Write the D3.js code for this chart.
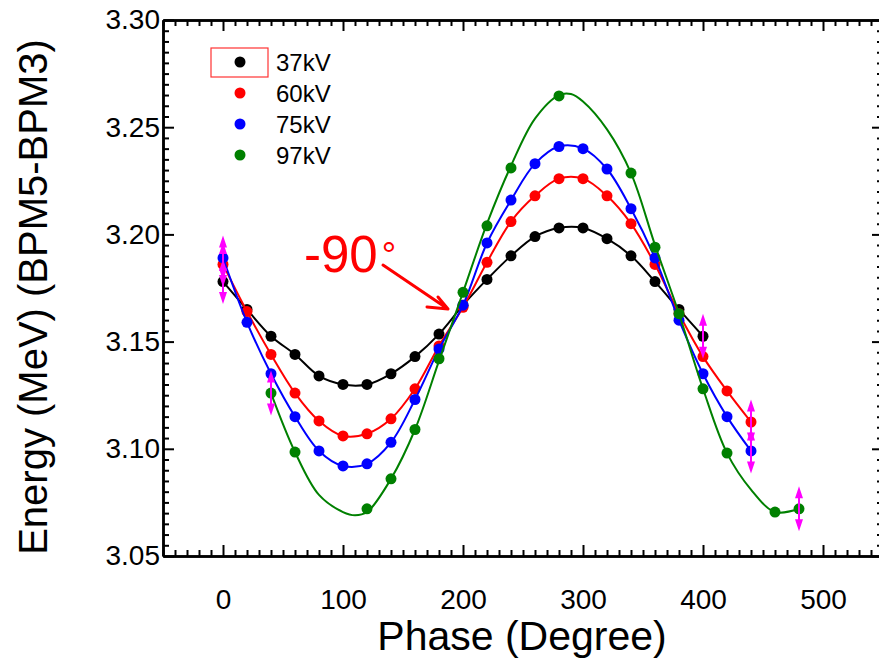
<!DOCTYPE html>
<html>
<head>
<meta charset="utf-8">
<script src="https://cdn.jsdelivr.net/npm/d3@7"></script>
<style>
  body { margin: 0; background: #fff; }
  svg { display: block; }
  text { font-family: "Liberation Sans", Arial, sans-serif; }
  .tick text { font-family: "Liberation Sans Narrow", "Arial Narrow", "Liberation Sans", Arial, sans-serif; }
</style>
</head>
<body>
<svg id="chart" width="879" height="663"></svg>
<script>
// phase steps (degree)
var phases = [0, 20, 40, 60, 80, 100, 120, 140, 160, 180, 200, 220, 240, 260, 280, 300, 320, 340, 360, 380, 400, 420, 440, 460, 480];

// energy (MeV), null where there is no measurement
var kv37 = [3.178, 3.165, 3.1525, 3.144, 3.134, 3.130, 3.130, 3.135, 3.143, 3.1535, 3.167, 3.179, 3.190, 3.199, 3.203, 3.203, 3.198, 3.190, 3.178, 3.165, 3.1525, null, null, null, null];
var kv60 = [3.186, 3.164, 3.144, 3.126, 3.113, 3.106, 3.107, 3.114, 3.128, 3.148, 3.166, 3.187, 3.206, 3.218, 3.226, 3.226, 3.218, 3.205, 3.186, 3.163, 3.143, 3.127, 3.1125, null, null];
var kv75 = [3.189, 3.159, 3.135, 3.115, 3.099, 3.092, 3.093, 3.103, 3.123, 3.1465, 3.167, 3.196, 3.216, 3.233, 3.241, 3.240, 3.2305, 3.212, 3.189, 3.160, 3.135, 3.115, 3.099, null, null];
var kv97 = [null, null, 3.126, 3.0985, null, null, 3.072, 3.086, 3.109, 3.142, 3.173, 3.204, 3.231, null, 3.2646, null, null, 3.2286, 3.194, 3.163, 3.128, 3.098, null, 3.0705, 3.072];

// fitted curve of the 97kV set
var fit97Phase = [40, 60, 80, 100, 110, 120, 140, 160, 180, 200, 220, 240, 260, 280, 290, 300, 320, 340, 360, 380, 400, 420, 440, 460, 480];
var fit97Value = [3.126, 3.0985, 3.0785, 3.0705, 3.069, 3.0705, 3.086, 3.109, 3.141, 3.173, 3.205, 3.232, 3.254, 3.265, 3.2655, 3.262, 3.249, 3.2286, 3.195, 3.163, 3.128, 3.098, 3.081, 3.0705, 3.072];

// where the error bars sit, per set
var err37 = [0, 400];
var err60 = [0, 440];
var err75 = [0, 440];
var err97 = [40, 480];
var errSize = 0.0105;

var seriesNames = ['37kV', '60kV', '75kV', '97kV'];
var seriesColors = ['#000000', '#ff0000', '#0000ff', '#008000'];

var xTicks = [0, 100, 200, 300, 400, 500];
var yTicks = [3.05, 3.10, 3.15, 3.20, 3.25, 3.30];

var svg = d3.select('#chart');

var x = d3.scaleLinear().domain([-50, 550]).range([163, 883]);
var y = d3.scaleLinear().domain([3.05, 3.30]).range([556, 20]);

var xMinor = d3.range(-50, 551, 10).filter(function(d) { return d % 100 !== 0; });
var yMinor = d3.range(0, 51).map(function(i) { return 3.05 + i * 0.005; })
  .filter(function(d, i) { return i % 10 !== 0; });

function styleAxis(g) {
  g.select('.domain').attr('stroke', '#000').attr('stroke-width', 2.5);
  g.selectAll('.tick line').attr('stroke', '#000').attr('stroke-width', 2);
  g.selectAll('.tick text').attr('fill', '#000').attr('font-size', 28);
}

// bottom
svg.append('g').attr('transform', 'translate(0,556)')
  .call(d3.axisBottom(x).tickValues(xTicks).tickSize(-11).tickSizeOuter(0).tickPadding(33).tickFormat(d3.format('d')))
  .call(styleAxis);
svg.append('g').attr('transform', 'translate(0,556)')
  .call(d3.axisBottom(x).tickValues(xMinor).tickSize(-6).tickSizeOuter(0).tickFormat(''))
  .call(styleAxis);
// top
svg.append('g').attr('transform', 'translate(0,20)')
  .call(d3.axisTop(x).tickValues(xTicks).tickSize(-11).tickSizeOuter(0).tickFormat(''))
  .call(styleAxis);
svg.append('g').attr('transform', 'translate(0,20)')
  .call(d3.axisTop(x).tickValues(xMinor).tickSize(-6).tickSizeOuter(0).tickFormat(''))
  .call(styleAxis);
// left
svg.append('g').attr('transform', 'translate(163,0)')
  .call(d3.axisLeft(y).tickValues(yTicks).tickSize(-11).tickSizeOuter(0).tickPadding(3).tickFormat(d3.format('.2f')))
  .call(styleAxis);
svg.append('g').attr('transform', 'translate(163,0)')
  .call(d3.axisLeft(y).tickValues(yMinor).tickSize(-6).tickSizeOuter(0).tickFormat(''))
  .call(styleAxis);
// right
svg.append('g').attr('transform', 'translate(883,0)')
  .call(d3.axisRight(y).tickValues(yTicks).tickSize(-11).tickSizeOuter(0).tickFormat(''))
  .call(styleAxis);
svg.append('g').attr('transform', 'translate(883,0)')
  .call(d3.axisRight(y).tickValues(yMinor).tickSize(-6).tickSizeOuter(0).tickFormat(''))
  .call(styleAxis);

// axis titles
svg.append('text')
  .attr('x', 522).attr('y', 650)
  .attr('text-anchor', 'middle')
  .attr('font-size', 41)
  .text('Phase (Degree)');

svg.append('text')
  .attr('transform', 'translate(47,297) rotate(-90)')
  .attr('text-anchor', 'middle')
  .attr('font-size', 40)
  .text('Energy (MeV) (BPM5-BPM3)');

// series
var allSeries = [kv37, kv60, kv75, kv97];
var allErr = [err37, err60, err75, err97];

var line = d3.line()
  .defined(function(d) { return d.v !== null; })
  .x(function(d) { return x(d.p); })
  .y(function(d) { return y(d.v); })
  .curve(d3.curveCatmullRom.alpha(0.5));

allSeries.forEach(function(vals, si) {
  var pts = phases.map(function(p, i) { return { p: p, v: vals[i] }; });
  var drawn = pts.filter(function(d) { return d.v !== null; });
  var g = svg.append('g');

  if (si === 3) {
    var fit = fit97Phase.map(function(p, i) { return { p: p, v: fit97Value[i] }; });
    g.append('path').datum(fit)
      .attr('d', line)
      .attr('fill', 'none')
      .attr('stroke', seriesColors[si])
      .attr('stroke-width', 2);
  } else {
    g.append('path').datum(drawn)
      .attr('d', line)
      .attr('fill', 'none')
      .attr('stroke', seriesColors[si])
      .attr('stroke-width', 2);
  }

  g.selectAll('circle').data(drawn).enter().append('circle')
    .attr('cx', function(d) { return x(d.p); })
    .attr('cy', function(d) { return y(d.v); })
    .attr('r', 5.5)
    .attr('fill', seriesColors[si]);
});

// error bars with arrow heads
var errData = [];
allErr.forEach(function(list, si) {
  list.forEach(function(p) {
    errData.push({ p: p, v: allSeries[si][phases.indexOf(p)] });
  });
});

var eb = svg.append('g').selectAll('g').data(errData).enter().append('g');
eb.append('line')
  .attr('x1', function(d) { return x(d.p); })
  .attr('x2', function(d) { return x(d.p); })
  .attr('y1', function(d) { return y(d.v + errSize) + 6; })
  .attr('y2', function(d) { return y(d.v - errSize) - 6; })
  .attr('stroke', '#ff00ff')
  .attr('stroke-width', 2);
eb.append('path')
  .attr('d', function(d) {
    var cx = x(d.p), t = y(d.v + errSize), b = y(d.v - errSize);
    return 'M' + cx + ',' + t + 'L' + (cx - 4) + ',' + (t + 12) + 'L' + (cx + 4) + ',' + (t + 12) + 'Z' +
      'M' + cx + ',' + b + 'L' + (cx - 4) + ',' + (b - 12) + 'L' + (cx + 4) + ',' + (b - 12) + 'Z';
  })
  .attr('fill', '#ff00ff');

// legend
var legend = svg.append('g');
legend.append('rect')
  .attr('x', 211).attr('y', 48).attr('width', 57).attr('height', 29)
  .attr('fill', 'none').attr('stroke', '#ff3333').attr('stroke-width', 1.2);
seriesNames.forEach(function(name, i) {
  legend.append('circle')
    .attr('cx', 240).attr('cy', 62 + i * 31)
    .attr('r', 5.5)
    .attr('fill', seriesColors[i]);
  legend.append('text')
    .attr('x', 276).attr('y', 62 + i * 31)
    .attr('dy', '0.36em')
    .attr('font-size', 24)
    .text(name);
});

// -90 degree note
var note = svg.append('text')
  .attr('x', 304).attr('y', 272)
  .attr('font-size', 51)
  .attr('fill', '#ff0000');
note.append('tspan').text('-90');
note.append('tspan').attr('dx', 4).attr('dy', -4).attr('font-size', 36).attr('font-weight', 300).text('°');

svg.append('path')
  .attr('d', 'M383,265 L448,309 M427,307 L448,309 L438,297')
  .attr('fill', 'none')
  .attr('stroke', '#ff0000')
  .attr('stroke-width', 3)
  .attr('stroke-linecap', 'round')
  .attr('stroke-linejoin', 'round');
</script>
</body>
</html>
